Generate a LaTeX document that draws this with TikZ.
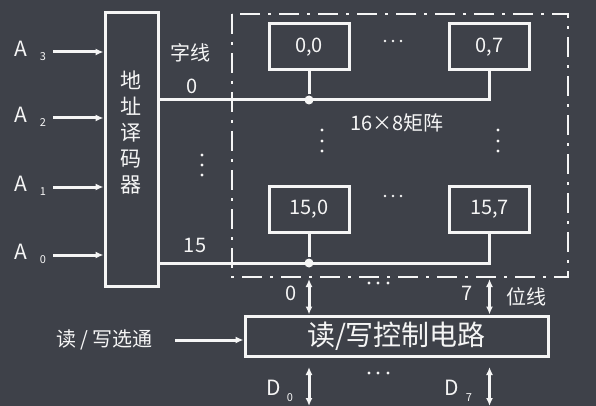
\documentclass[tikz,border=0pt]{standalone}
\usepackage{fontspec}
\setmainfont{Noto Sans CJK SC}
\usetikzlibrary{positioning, arrows.meta}
\definecolor{bgdark}{RGB}{62,65,73}
\definecolor{fgwhite}{RGB}{245,245,245}

\begin{document}
\begin{tikzpicture}[x=1pt, y=-1pt, line width=3pt, color=fgwhite]
\tikzset{
    every node/.style={text=fgwhite, inner sep=0pt},
    txt/.style={font=\fontsize{20}{20}\selectfont},
    subtxt/.style={font=\fontsize{11}{11}\selectfont},
    cellbox/.style={draw, minimum width=80pt, minimum height=46pt, font=\fontsize{20}{20}\selectfont},
    arr/.style={-{Latex[length=8pt,width=7pt]}},
    biarr/.style={{Latex[length=8pt,width=7pt]}-{Latex[length=8pt,width=7pt]}},
    junct/.style={circle, fill=fgwhite, minimum size=9pt},
    matrixframe/.style={draw, line width=2.6pt, dash pattern=on 20pt off 8pt on 3pt off 8pt}
}

% background and frame
\fill[bgdark] (0,0) rectangle (596,406);
\useasboundingbox (0,0) rectangle (596,406);

% address decoder
\node[draw, minimum width=53pt, minimum height=273pt] (dec) at (131.5,149.5) {};
\node[align=center, font=\fontsize{21}{26}\selectfont] (dectxt) at (131,133) {地\\址\\译\\码\\器};

% address inputs
\foreach \i/\y in {3/52, 2/118, 1/187, 0/255} {
    \node[font=\fontsize{21}{21}\selectfont] (a\i) at (21,\y-3) {A};
    \node[subtxt] (as\i) at (43,\y+5) {\i};
    \coordinate (ain\i) at (53,\y);
    \draw[arr] (ain\i) -- (ain\i -| dec.west);
}

% memory cells
\node[cellbox] (c00) at (309,47) {0,0};
\node[cellbox] (c07) at (489.5,47) {0,7};
\node[cellbox] (c150) at (309,209) {15,0};
\node[cellbox] (c157) at (489.5,209) {15,7};
\node[txt] (mlabel) at (397,123) {16×8矩阵};

% word lines
\coordinate (w0) at (489.5,100);
\coordinate (w15) at (489.5,263);
\node[junct] (j0) at (309,100) {};
\node[junct] (j15) at (309,263) {};
\draw (dec.east |- w0) -- (w0) -- (c07.south);
\draw (dec.east |- w15) -- (w15) -- (c157.south);
\draw (c00.south) -- (j0);
\draw (c150.south) -- (j15);
\node[txt] (zx) at (190,53) {字线};
\node[txt] (wl0) at (192,86) {0};
\node[txt] (wl15) at (195,245) {15};

% matrix boundary
\draw[matrixframe] (232,14) rectangle (568,277);

% dots
\foreach \y in {155,165,175} \fill (202,\y) circle (1.7pt);
\foreach \y in {130,141,151} {
    \fill (322,\y) circle (1.7pt);
    \fill (498,\y) circle (1.7pt);
}
\foreach \x in {385,393,401} {
    \fill (\x,41) circle (1.4pt);
    \fill (\x,196) circle (1.4pt);
}
\foreach \x in {369,378,388} {
    \fill (\x,283) circle (1.7pt);
    \fill (\x,373) circle (1.7pt);
}

% read/write control
\node[draw, minimum width=303pt, minimum height=40pt, font=\fontsize{28}{28}\selectfont] (ctrl) at (396.5,336) {读/写控制电路};
\coordinate (b0) at (309,279);
\coordinate (b7) at (489.5,279);
\draw[biarr] (b0) -- (b0 |- ctrl.north);
\draw[biarr] (b7) -- (b7 |- ctrl.north);
\node[txt] (bl0) at (291,293) {0};
\node[txt] (bl7) at (467,293) {7};
\node[txt] (wx) at (526,297) {位线};

\node[txt] (rw) at (104.5,340) {读 / 写选通};
\coordinate (rwin) at (175,340);
\draw[arr] (rwin) -- (ctrl.west |- rwin);

% data lines
\coordinate (d0) at (309,406);
\coordinate (d7) at (489.5,406);
\draw[biarr] (d0 |- 0,367) -- (d0);
\draw[biarr] (d7 |- 0,367) -- (d7);
\node[font=\fontsize{21}{21}\selectfont] (dd0) at (274,388) {D};
\node[subtxt] (ds0) at (290,398) {0};
\node[font=\fontsize{21}{21}\selectfont] (dd7) at (452,388) {D};
\node[subtxt] (ds7) at (469,398) {7};
\end{tikzpicture}
\end{document}
